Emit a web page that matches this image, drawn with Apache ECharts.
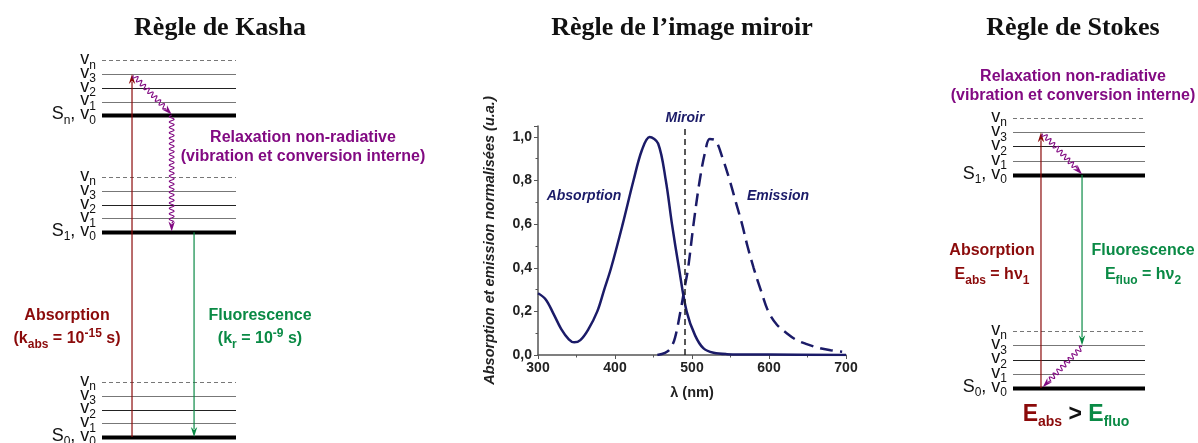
<!DOCTYPE html>
<html>
<head>
<meta charset="utf-8">
<script src="https://cdn.jsdelivr.net/npm/echarts@6/dist/echarts.min.js"></script>
<style>
html, body { margin: 0; padding: 0; background: #fff; }
#chart { width: 1198px; height: 443px; }
</style>
</head>
<body>
<div id="chart"></div>
<script>
// --- spectre : absorption / emission normalisées ---
const absNm  = [300, 310, 320, 330, 340, 347, 355, 365, 377, 386, 395, 410, 424, 435, 445, 456, 466, 474, 483, 493, 504, 515, 528, 545, 600, 700];
const absVal = [0.283, 0.255, 0.19, 0.12, 0.072, 0.058, 0.068, 0.115, 0.2, 0.3, 0.4, 0.6, 0.8, 0.94, 1.0, 0.97, 0.8, 0.6, 0.4, 0.2, 0.09, 0.03, 0.01, 0.004, 0.002, 0];
const emiNm  = [455, 465, 472, 478, 485, 490, 495, 502, 510, 517, 523, 530, 540, 549, 557, 565, 572, 580, 590, 599, 610, 623, 635, 649, 665, 680, 695];
const emiVal = [0, 0.01, 0.03, 0.08, 0.2, 0.3, 0.4, 0.6, 0.8, 0.93, 0.99, 0.985, 0.9, 0.8, 0.7, 0.6, 0.5, 0.4, 0.29, 0.2, 0.14, 0.1, 0.07, 0.05, 0.032, 0.022, 0.015];
const mirrorNm = 491;
const xRange = [300, 700];
const yRange = [0, 1.05];

// --- diagrammes de Jablonski (énergies en quanta de vibration) ---
const vibLabels = ['0', '1', '2', '3', 'n'];
const kashaStates = ['0', '1', 'n'];
const kashaEnergy = [0, 14.9, 23.4];
const stokesStates = ['0', '1'];
const stokesEnergy = [0, 14.95];

// flèches : [type, x1, état1, vib1, x2, état2, vib2]  type 0 abs, 1 fluo, 2 relaxation
const kashaArrows = [
    [0, 0.224, 0, 0, 0.224, 2, 3],
    [2, 0.235, 2, 2.9, 0.52, 2, 0.05],
    [2, 0.52, 2, 0, 0.52, 1, 0.05],
    [1, 0.687, 1, 0, 0.687, 0, 0]
];
const stokesArrows = [
    [0, 0.212, 0, 0, 0.212, 1, 3],
    [2, 0.225, 1, 2.9, 0.523, 1, 0.05],
    [1, 0.523, 1, 0, 0.523, 0, 3],
    [2, 0.523, 0, 2.9, 0.225, 0, 0.05]
];

const SANS = 'Liberation Sans, Arial, sans-serif';
const SERIF = 'Liberation Serif, Times New Roman, serif';
const RED = '#8b0a0a';
const GREEN = '#0a8a45';
const PURPLE = '#820a82';
const NAVY = '#1b1b68';
const arrowColors = [RED, GREEN, PURPLE];

const levelRich = {
    v: {fontSize: 18, fontFamily: SANS, fill: '#111', verticalAlign: 'top'},
    s: {fontSize: 12, fontFamily: SANS, fill: '#111', verticalAlign: 'top', padding: [9, 0, 0, 0]}
};

function levelData (energy) {
    const out = [];
    energy.forEach(function (e, s) {
        vibLabels.forEach(function (v, i) {
            out.push([0, e + i, s, i]);
        });
    });
    return out;
}

function arrowData (arrows, energy) {
    return arrows.map(function (a) {
        return [a[1], energy[a[2]] + a[3], a[4], energy[a[5]] + a[6], a[0]];
    });
}

function levelSeries (idx, energy, states) {
    return {
        type: 'custom',
        xAxisIndex: idx,
        yAxisIndex: idx,
        silent: true,
        data: levelData(energy),
        renderItem: function (params, api) {
            const y = api.value(1);
            const s = api.value(2);
            const v = api.value(3);
            const a = api.coord([0, y]);
            const b = api.coord([1, y]);
            let style = {stroke: v % 2 ? '#777' : '#222', lineWidth: 1};
            if (v === 0) style = {stroke: '#000', lineWidth: 4};
            if (v === 4) style = {stroke: '#777', lineWidth: 1, lineDash: [4, 3]};
            const txt = v === 0
                ? '{v|S}{s|' + states[s] + '}{v|, v}{s|0}'
                : '{v|v}{s|' + vibLabels[v] + '}';
            return {
                type: 'group',
                children: [
                    {type: 'line', shape: {x1: a[0], y1: Math.round(a[1]) + 0.5, x2: b[0], y2: Math.round(a[1]) + 0.5}, style: style},
                    {type: 'text', x: a[0] - 6, y: a[1] + 0.5, style: {text: txt, rich: levelRich, textAlign: 'right', textVerticalAlign: 'middle'}}
                ]
            };
        }
    };
}

function arrowSeries (idx, data) {
    return {
        type: 'custom',
        xAxisIndex: idx,
        yAxisIndex: idx,
        silent: true,
        data: data,
        renderItem: function (params, api) {
            const p1 = api.coord([api.value(0), api.value(1)]);
            const p2 = api.coord([api.value(2), api.value(3)]);
            const kind = api.value(4);
            const color = arrowColors[kind];
            const dx = p2[0] - p1[0];
            const dy = p2[1] - p1[1];
            const L = Math.sqrt(dx * dx + dy * dy);
            const ux = dx / L, uy = dy / L;
            const nx = -uy, ny = ux;
            const head = 10, hw = 3.2;
            const bx = p2[0] - ux * head, by = p2[1] - uy * head;
            const children = [];
            if (kind === 2) {
                const pts = [];
                const end = L - head;
                for (let t = 0; t <= end; t += 0.5) {
                    const off = 2.4 * Math.sin(2 * Math.PI * t / 5.4);
                    pts.push([p1[0] + ux * t + nx * off, p1[1] + uy * t + ny * off]);
                }
                pts.push([bx + ux * 2, by + uy * 2]);
                children.push({type: 'polyline', shape: {points: pts}, style: {stroke: color, lineWidth: 1.1, fill: null}});
            } else {
                children.push({type: 'line', shape: {x1: p1[0], y1: p1[1], x2: bx + ux * 2, y2: by + uy * 2}, style: {stroke: color, lineWidth: 1.2}});
            }
            children.push({
                type: 'polygon',
                shape: {points: [[p2[0], p2[1]], [bx + nx * hw, by + ny * hw], [bx + ux * 3, by + uy * 3], [bx - nx * hw, by - ny * hw]]},
                style: {fill: color}
            });
            return {type: 'group', children: children};
        }
    };
}

function annRich (color, size, sub) {
    return {
        m: {fontSize: size, fontWeight: 'bold', fontFamily: SANS, fill: color, verticalAlign: 'top', padding: [5, 0, 0, 0]},
        b: {fontSize: sub, fontWeight: 'bold', fontFamily: SANS, fill: color, verticalAlign: 'top', padding: [13, 0, 0, 0]},
        p: {fontSize: sub, fontWeight: 'bold', fontFamily: SANS, fill: color, verticalAlign: 'top', padding: [2, 0, 0, 0]}
    };
}

function label (x, y, text, color, rich) {
    return {
        type: 'text', x: x, y: y, silent: true,
        style: {
            text: text, fill: color, rich: rich,
            font: 'bold 16px ' + SANS,
            textAlign: 'center', textVerticalAlign: 'middle'
        }
    };
}

function title (x, text) {
    return {
        type: 'text', x: x, y: 28, silent: true,
        style: {text: text, fill: '#111', font: 'bold 26px ' + SERIF, textAlign: 'center', textVerticalAlign: 'middle'}
    };
}

function italic (x, y, text) {
    return {
        type: 'text', x: x, y: y, silent: true,
        style: {text: text, fill: NAVY, font: 'italic bold 14px ' + SANS, textAlign: 'center', textVerticalAlign: 'middle'}
    };
}

const chart = echarts.init(document.getElementById('chart'));

const option = {
    backgroundColor: '#fff',
    animation: false,
    grid: [
        {left: 102, width: 134, top: 52, height: 385},
        {left: 538, right: 352, top: 126, bottom: 88},
        {left: 1013, width: 132, top: 117.25, height: 270.75}
    ],
    xAxis: [
        {type: 'value', gridIndex: 0, min: 0, max: 1, show: false},
        {
            type: 'value', gridIndex: 1, min: xRange[0], max: xRange[1], interval: 100,
            name: 'λ (nm)', nameLocation: 'middle', nameGap: 30,
            nameTextStyle: {fontFamily: SANS, fontWeight: 'bold', fontSize: 14.5, color: '#222'},
            axisLine: {lineStyle: {color: '#555', width: 1.5}},
            axisTick: {length: 4, lineStyle: {color: '#555'}},
            minorTick: {show: true, splitNumber: 2, length: 2.5, lineStyle: {color: '#555'}},
            splitLine: {show: false},
            axisLabel: {fontFamily: SANS, fontWeight: 'bold', fontSize: 14, color: '#222', margin: 6}
        },
        {type: 'value', gridIndex: 2, min: 0, max: 1, show: false}
    ],
    yAxis: [
        {type: 'value', gridIndex: 0, min: 0, max: 28, show: false},
        {
            type: 'value', gridIndex: 1, min: yRange[0], max: yRange[1], interval: 0.2,
            name: 'Absorption et emission normalisées (u.a.)', nameLocation: 'middle', nameGap: 41, nameRotate: 90,
            nameTextStyle: {fontFamily: SANS, fontWeight: 'bold', fontStyle: 'italic', fontSize: 14.5, color: '#222'},
            axisLine: {show: true, lineStyle: {color: '#555', width: 1.5}},
            axisTick: {show: true, length: 4, lineStyle: {color: '#555'}},
            minorTick: {show: true, splitNumber: 2, length: 2.5, lineStyle: {color: '#555'}},
            splitLine: {show: false},
            axisLabel: {
                fontFamily: SANS, fontWeight: 'bold', fontSize: 14, color: '#222', margin: 6,
                formatter: function (v) {
                    if (Math.abs(v * 5 - Math.round(v * 5)) > 1e-6) return '';
                    return v.toFixed(1).replace('.', ',');
                }
            }
        },
        {type: 'value', gridIndex: 2, min: 0, max: 19, show: false}
    ],
    series: [
        levelSeries(0, kashaEnergy, kashaStates),
        arrowSeries(0, arrowData(kashaArrows, kashaEnergy)),
        {
            name: 'Absorption', type: 'line', xAxisIndex: 1, yAxisIndex: 1,
            data: absNm.map(function (x, i) { return [x, absVal[i]]; }),
            smooth: 0.35, symbol: 'none',
            lineStyle: {color: NAVY, width: 2.5}
        },
        {
            name: 'Emission', type: 'line', xAxisIndex: 1, yAxisIndex: 1,
            data: emiNm.map(function (x, i) { return [x, emiVal[i]]; }),
            smooth: 0.35, symbol: 'none',
            lineStyle: {color: NAVY, width: 2.5, type: [13, 7]},
            markLine: {
                silent: true, symbol: 'none', label: {show: false},
                lineStyle: {color: '#222', width: 1.5, type: [6, 4]},
                data: [{xAxis: mirrorNm}]
            }
        },
        levelSeries(2, stokesEnergy, stokesStates),
        arrowSeries(2, arrowData(stokesArrows, stokesEnergy))
    ],
    graphic: [
        title(220, 'Règle de Kasha'),
        title(682, 'Règle de l’image miroir'),
        title(1073, 'Règle de Stokes'),

        label(303, 138, 'Relaxation non-radiative', PURPLE),
        label(303, 157, '(vibration et conversion interne)', PURPLE),
        label(67, 316, 'Absorption', RED),
        label(67, 338, '{m|(k}{b|abs}{m| = 10}{p|-15}{m| s)}', RED, annRich(RED, 16, 12)),
        label(260, 316, 'Fluorescence', GREEN),
        label(260, 338, '{m|(k}{b|r}{m| = 10}{p|-9}{m| s)}', GREEN, annRich(GREEN, 16, 12)),

        italic(685, 118, 'Miroir'),
        italic(584, 196, 'Absorption'),
        italic(778, 196, 'Emission'),

        label(1073, 77, 'Relaxation non-radiative', PURPLE),
        label(1073, 96, '(vibration et conversion interne)', PURPLE),
        label(992, 251, 'Absorption', RED),
        label(992, 274, '{m|E}{b|abs}{m| = hν}{b|1}', RED, annRich(RED, 16, 12)),
        label(1143, 251, 'Fluorescence', GREEN),
        label(1143, 274, '{m|E}{b|fluo}{m| = hν}{b|2}', GREEN, annRich(GREEN, 16, 12)),
        {
            type: 'text', x: 1076, y: 416, silent: true,
            style: {
                text: '{r|E}{rs|abs}{k| > }{g|E}{gs|fluo}',
                textAlign: 'center', textVerticalAlign: 'middle',
                rich: {
                    r: {fontSize: 23, fontWeight: 'bold', fontFamily: SANS, fill: RED, verticalAlign: 'top'},
                    rs: {fontSize: 14, fontWeight: 'bold', fontFamily: SANS, fill: RED, verticalAlign: 'top', padding: [12, 0, 0, 0]},
                    k: {fontSize: 23, fontWeight: 'bold', fontFamily: SANS, fill: '#111', verticalAlign: 'top'},
                    g: {fontSize: 23, fontWeight: 'bold', fontFamily: SANS, fill: GREEN, verticalAlign: 'top'},
                    gs: {fontSize: 14, fontWeight: 'bold', fontFamily: SANS, fill: GREEN, verticalAlign: 'top', padding: [12, 0, 0, 0]}
                }
            }
        }
    ]
};

chart.setOption(option);
window.addEventListener('resize', function () {
    chart.resize();
});
</script>
</body>
</html>
